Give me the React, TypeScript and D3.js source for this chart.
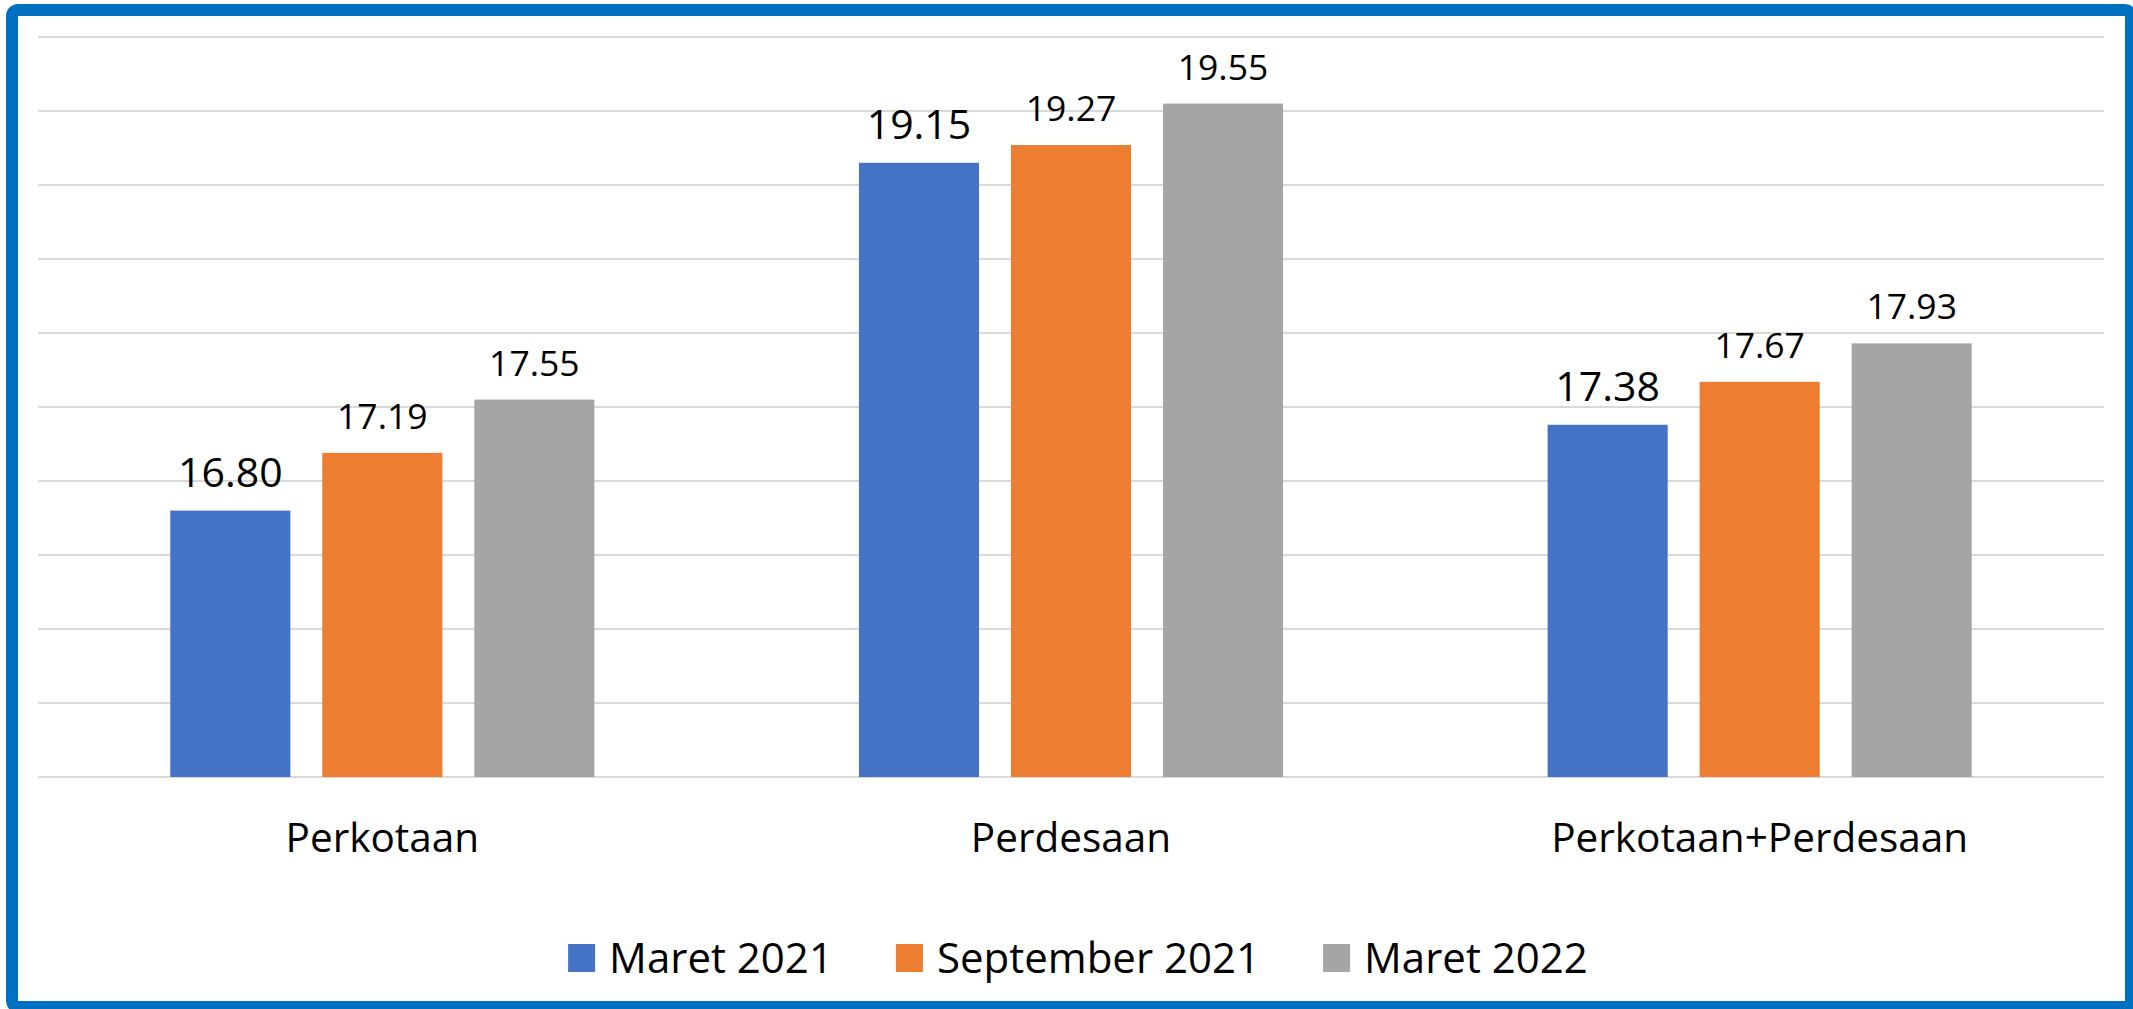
import React, { useEffect, useRef } from 'react';
import * as d3 from 'd3';

const categories = ['Perkotaan', 'Perdesaan', 'Perkotaan+Perdesaan'];
const seriesNames = ['Maret 2021', 'September 2021', 'Maret 2022'];
const maret2021 = [16.8, 19.15, 17.38];
const september2021 = [17.19, 19.27, 17.67];
const maret2022 = [17.55, 19.55, 17.93];
const yDomain = [15, 20];

const colors = ['#4472C4', '#ED7D31', '#A5A5A5'];
const FONT = '"Open Sans", "Noto Sans", sans-serif';

const App = () => {
  const svgRef = useRef<SVGSVGElement | null>(null);

  useEffect(() => {
    document.body.style.margin = '0';
    const svg = d3.select(svgRef.current);
    svg.selectAll('*').remove();

    const W = 2133;
    const H = 1009;
    svg.attr('width', W).attr('height', H);

    svg.append('rect')
      .attr('width', W).attr('height', H)
      .attr('fill', '#fff');

    const values = [maret2021, september2021, maret2022];
    const rows = categories.map((c, i) => ({
      category: c,
      items: seriesNames.map((s, j) => ({ series: s, idx: j, value: values[j][i] })),
    }));

    const left = 38, right = 2104, top = 37, bottom = 777;

    const x = d3.scaleBand()
      .domain(categories)
      .range([left, right])
      .padding(0);

    const xInner = d3.scaleBand()
      .domain(seriesNames)
      .range([0, x.bandwidth()])
      .paddingInner(0.21)
      .paddingOuter(0.87);

    const y = d3.scaleLinear()
      .domain(yDomain)
      .range([bottom, top]);

    // gridlines
    svg.append('g')
      .selectAll('line')
      .data(y.ticks(10))
      .join('line')
      .attr('x1', left)
      .attr('x2', right)
      .attr('y1', d => y(d))
      .attr('y2', d => y(d))
      .attr('stroke', '#D9D9D9')
      .attr('stroke-width', 2);

    const groups = svg.append('g')
      .selectAll('g')
      .data(rows)
      .join('g')
      .attr('transform', d => `translate(${x(d.category)},0)`);

    groups.selectAll('rect')
      .data(d => d.items)
      .join('rect')
      .attr('x', d => xInner(d.series)!)
      .attr('y', d => y(d.value))
      .attr('width', xInner.bandwidth())
      .attr('height', d => bottom - y(d.value))
      .attr('fill', d => colors[d.idx]);

    groups.selectAll('text')
      .data(d => d.items)
      .join('text')
      .attr('x', d => xInner(d.series)! + xInner.bandwidth() / 2)
      .attr('y', d => y(d.value) - 24)
      .attr('text-anchor', 'middle')
      .style('font-family', FONT)
      .style('font-size', d => (d.idx === 0 ? '41px' : '35.5px'))
      .style('fill', '#000')
      .text(d => d.value.toFixed(2));

    // category labels
    svg.append('g')
      .selectAll('text')
      .data(categories)
      .join('text')
      .attr('x', d => x(d)! + x.bandwidth() / 2)
      .attr('y', 852)
      .attr('text-anchor', 'middle')
      .style('font-family', FONT)
      .style('font-size', '40.5px')
      .style('fill', '#000')
      .text(d => d);

    // legend
    const legend = svg.append('g');
    const sw = 27, gapText = 14, gapItem = 63;
    const items = seriesNames.map((s, i) => {
      const g = legend.append('g');
      g.append('rect')
        .attr('x', 0).attr('y', 944)
        .attr('width', sw).attr('height', 28)
        .attr('fill', colors[i]);
      const t = g.append('text')
        .attr('x', sw + gapText)
        .attr('y', 973)
        .style('font-family', FONT)
        .style('font-size', '42px')
        .style('fill', '#000')
        .text(s);
      const w = (t.node() as SVGTextElement).getComputedTextLength();
      return { g, width: sw + gapText + w };
    });
    const total = d3.sum(items, d => d.width) + gapItem * (items.length - 1);
    let cx = 1078 - total / 2;
    items.forEach(it => {
      it.g.attr('transform', `translate(${cx},0)`);
      cx += it.width + gapItem;
    });

    // frame
    svg.append('rect')
      .attr('x', 12).attr('y', 10)
      .attr('width', 2119).attr('height', 997)
      .attr('rx', 6)
      .attr('fill', 'none')
      .attr('stroke', '#0070C0')
      .attr('stroke-width', 12);
  }, []);

  return (
    <div style={{ position: 'absolute', left: 0, top: 0 }}>
      <svg ref={svgRef} style={{ display: 'block' }}></svg>
    </div>
  );
};

export default App;
